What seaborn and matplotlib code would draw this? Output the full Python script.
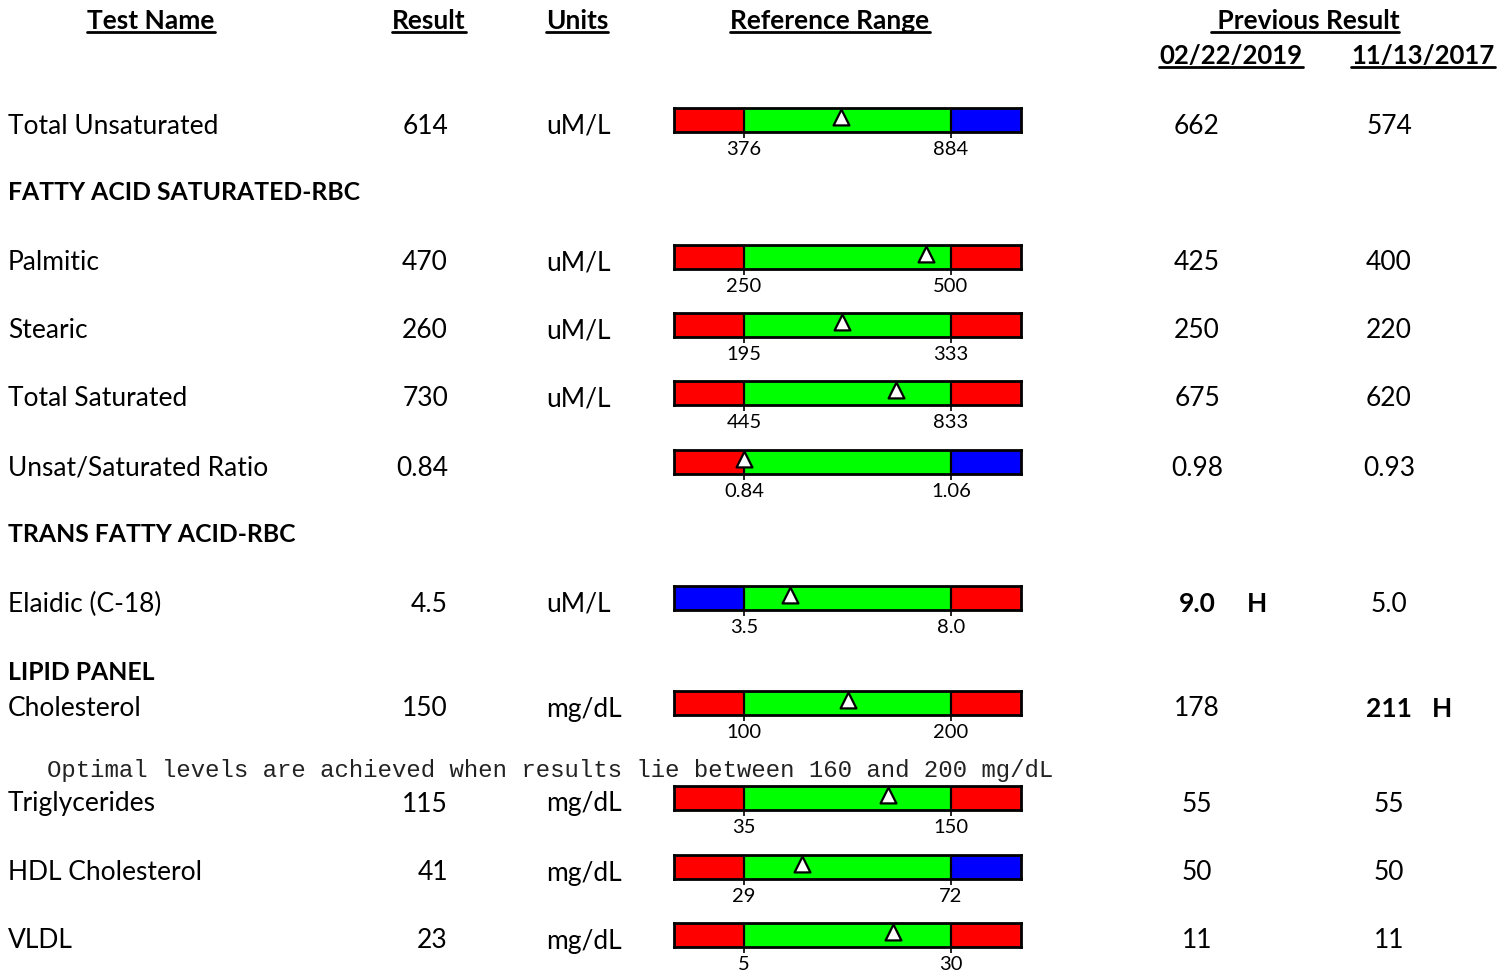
import matplotlib
matplotlib.use("Agg")
import matplotlib.pyplot as plt
import seaborn as sns

sns.set_theme(style="white")
plt.rcParams['font.family'] = ['Lato', 'DejaVu Sans']
plt.rcParams['text.color'] = 'black'
plt.rcParams['xtick.color'] = 'black'

# ---------------- data ----------------
tests = ["Total Unsaturated", "Palmitic", "Stearic", "Total Saturated",
         "Unsat/Saturated Ratio", "Elaidic (C-18)", "Cholesterol",
         "Triglycerides", "HDL Cholesterol", "VLDL"]
results = [614, 470, 260, 730, 0.84, 4.5, 150, 115, 41, 23]
result_labels = ["614", "470", "260", "730", "0.84", "4.5", "150", "115", "41", "23"]
units = ["uM/L", "uM/L", "uM/L", "uM/L", "", "uM/L", "mg/dL", "mg/dL", "mg/dL", "mg/dL"]
low = [376, 250, 195, 445, 0.84, 3.5, 100, 35, 29, 5]
high = [884, 500, 333, 833, 1.06, 8.0, 200, 150, 72, 30]
low_labels = ["376", "250", "195", "445", "0.84", "3.5", "100", "35", "29", "5"]
high_labels = ["884", "500", "333", "833", "1.06", "8.0", "200", "150", "72", "30"]
left_zone = ["red", "red", "red", "red", "red", "blue", "red", "red", "red", "red"]
right_zone = ["blue", "red", "red", "red", "blue", "red", "red", "red", "blue", "red"]
prev1 = ["662", "425", "250", "675", "0.98", "9.0", "178", "55", "50", "11"]
prev1_flag = ["", "", "", "", "", "H", "", "", "", ""]
prev2 = ["574", "400", "220", "620", "0.93", "5.0", "211", "55", "50", "11"]
prev2_flag = ["", "", "", "", "", "", "H", "", "", ""]
sections = ["FATTY ACID SATURATED-RBC", "TRANS FATTY ACID-RBC", "LIPID PANEL"]
headers = ["Test Name", "Result", "Units", "Reference Range", " Previous Result"]
prev_dates = ["02/22/2019", "11/13/2017"]
note = "Optimal levels are achieved when results lie between 160 and 200 mg/dL"

zone_colors = {"red": "#FF0000", "blue": "#0000FF", "green": "#00FF00"}

# ---------------- layout ----------------
W, H = 1512, 974
row_y = [126, 263, 331, 399, 468, 604, 709, 804, 873, 941]
section_y = [193, 535, 672]
note_y = 771
FS = 19
HFS = 19
SFS = 17.8
DFS = 18.5
TICK_FS = 14.5

fig = plt.figure(figsize=(W / 100, H / 100), dpi=100)
ax = fig.add_axes([0, 0, 1, 1])
ax.set_xlim(0, W)
ax.set_ylim(H, 0)
ax.axis("off")

# headers
header_x = [151, 429, 577, 830, 1305]
header_texts = []
for hx, h in zip(header_x, headers):
    header_texts.append(ax.text(hx, 21, h, ha="center", va="center",
                                fontsize=HFS, fontweight="bold"))
for hx, d in zip([1231, 1423], prev_dates):
    header_texts.append(ax.text(hx, 56, d, ha="center", va="center",
                                fontsize=DFS, fontweight="bold"))

# section titles
for sy, s in zip(section_y, sections):
    ax.text(8, sy, s, ha="left", va="center", fontsize=SFS, fontweight="bold")

ax.text(47, note_y, note, ha="left", va="center", fontsize=17.3,
        family="Liberation Mono", color="#222222")

for i, yc in enumerate(row_y):
    ax.text(8, yc, tests[i], ha="left", va="center", fontsize=FS)
    ax.text(448, yc, result_labels[i], ha="right", va="center", fontsize=FS)
    ax.text(546, yc, units[i], ha="left", va="center", fontsize=FS)
    w1 = "bold" if prev1_flag[i] else "normal"
    w2 = "bold" if prev2_flag[i] else "normal"
    ax.text(1197, yc, prev1[i], ha="center", va="center", fontsize=FS, fontweight=w1)
    if prev1_flag[i]:
        ax.text(1257, yc, prev1_flag[i], ha="center", va="center", fontsize=FS, fontweight="bold")
    ax.text(1389, yc, prev2[i], ha="center", va="center", fontsize=FS, fontweight=w2)
    if prev2_flag[i]:
        ax.text(1442, yc, prev2_flag[i], ha="center", va="center", fontsize=FS, fontweight="bold")

    # reference range bar in its own axes, scaled by the data
    bx0, bx1, g0, g1 = 674, 1021, 744, 951
    bc = yc - 6
    bh = 24
    bax = fig.add_axes([bx0 / W, 1 - (bc + bh / 2) / H, (bx1 - bx0) / W, bh / H])
    span = high[i] - low[i]
    per_px = span / (g1 - g0)
    xmin = low[i] - (g0 - bx0) * per_px
    xmax = high[i] + (bx1 - g1) * per_px
    bax.set_xlim(xmin, xmax)
    bax.set_ylim(0, 1)
    bax.axvspan(xmin, low[i], color=zone_colors[left_zone[i]], lw=0)
    bax.axvspan(low[i], high[i], color=zone_colors["green"], lw=0)
    bax.axvspan(high[i], xmax, color=zone_colors[right_zone[i]], lw=0)
    bax.axvline(low[i], color="black", lw=1.6)
    bax.axvline(high[i], color="black", lw=1.6)
    sns.scatterplot(x=[results[i]], y=[0.64], marker="^", s=130, color="white",
                    edgecolor="black", linewidth=1.6, ax=bax, zorder=5, clip_on=False)
    bax.set_yticks([])
    bax.set_xticks([low[i], high[i]])
    bax.set_xticklabels([low_labels[i], high_labels[i]], fontsize=TICK_FS)
    bax.tick_params(axis="x", length=4, width=1.2, color="black", pad=2.5, bottom=True)
    for sp in bax.spines.values():
        sp.set_visible(True)
        sp.set_color("black")
        sp.set_linewidth(2)
    bax.set_xlabel("")
    bax.set_ylabel("")
    bax.grid(False)

# underline headers
fig.canvas.draw()
r = fig.canvas.get_renderer()
inv = ax.transData.inverted()
for t in header_texts:
    bb = t.get_window_extent(renderer=r)
    (x0, y0), (x1, y1) = inv.transform([(bb.x0, bb.y0), (bb.x1, bb.y1)])
    ax.plot([x0, x1], [y0 - 1, y0 - 1], color="black", lw=2)

fig.savefig("out.png", dpi=100)
